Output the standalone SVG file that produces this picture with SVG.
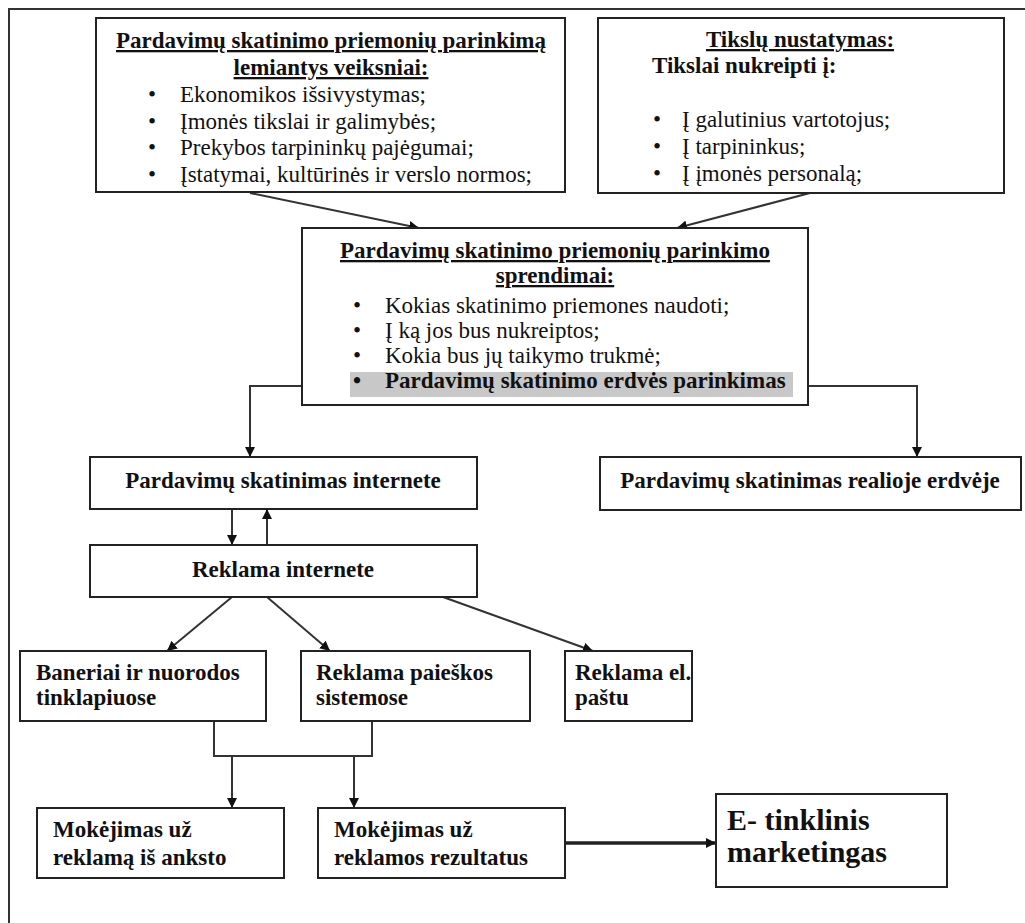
<svg xmlns="http://www.w3.org/2000/svg" width="1025" height="923" viewBox="0 0 1025 923" font-family="'Liberation Serif', 'Times New Roman', Times, 'DejaVu Serif', serif">
  <style>
    text { font-family: "Liberation Serif", "Times New Roman", Times, "DejaVu Serif", serif; font-size: 23px; fill: #111; }
    .b { font-weight: bold; }
    .u { text-decoration: underline; }
    .mid { text-anchor: middle; }
    .box { fill: #fff; stroke: #222; stroke-width: 2; }
    .frame { fill: none; stroke: #333; stroke-width: 2; }
    .line { fill: none; stroke: #333; stroke-width: 2; }
    .thick { fill: none; stroke: #222; stroke-width: 3.5; }
    .big { font-size: 30px; font-weight: bold; }
  </style>
  <defs>
    <marker id="arrow" viewBox="0 0 10 10" refX="10" refY="5" markerWidth="5" markerHeight="5" orient="auto" markerUnits="strokeWidth">
      <path d="M0,0 L10,5 L0,10 z" fill="#111"/>
    </marker>
    <marker id="arrowS" viewBox="0 0 10 10" refX="10" refY="5" markerWidth="3" markerHeight="3" orient="auto" markerUnits="strokeWidth">
      <path d="M0,0 L10,5 L0,10 z" fill="#111"/>
    </marker>
  </defs>

  <rect width="1025" height="923" fill="#fff"/>
  <!-- page frame -->
  <path class="frame" d="M9,923 L9,9 L1025,9"/>

  <!-- connectors -->
  <g id="connectors">
    <line class="line" x1="250" y1="193" x2="419" y2="228" marker-end="url(#arrow)"/>
    <line class="line" x1="810" y1="193" x2="677" y2="228" marker-end="url(#arrow)"/>
    <polyline class="line" points="350,386 250,386 250,457" marker-end="url(#arrow)"/>
    <polyline class="line" points="793,386 917,386 917,457" marker-end="url(#arrow)"/>
    <line class="line" x1="232" y1="509" x2="232" y2="545" marker-end="url(#arrow)"/>
    <line class="line" x1="267" y1="545" x2="267" y2="509" marker-end="url(#arrow)"/>
    <line class="line" x1="232" y1="597" x2="167" y2="651" marker-end="url(#arrow)"/>
    <line class="line" x1="267" y1="597" x2="330" y2="651" marker-end="url(#arrow)"/>
    <line class="line" x1="443" y1="597" x2="593" y2="651" marker-end="url(#arrow)"/>
    <polyline class="line" points="214,721 214,756 372,756 372,721"/>
    <line class="line" x1="232" y1="756" x2="232" y2="808" marker-end="url(#arrow)"/>
    <line class="line" x1="354" y1="756" x2="354" y2="808" marker-end="url(#arrow)"/>
    <line class="thick" x1="565" y1="843" x2="716" y2="843" marker-end="url(#arrowS)"/>
  </g>

  <g id="factors">
    <rect class="box" x="96" y="18" width="469" height="174"/>
    <text class="b u mid" x="331" y="48">Pardavimų skatinimo priemonių parinkimą</text>
    <text class="b u mid" x="331" y="75">lemiantys veiksniai:</text>
    <text x="148" y="102">•</text><text x="180" y="102">Ekonomikos išsivystymas;</text>
    <text x="148" y="129">•</text><text x="180" y="129">Įmonės tikslai ir galimybės;</text>
    <text x="148" y="155">•</text><text x="180" y="155">Prekybos tarpininkų pajėgumai;</text>
    <text x="148" y="182">•</text><text x="180" y="182">Įstatymai, kultūrinės ir verslo normos;</text>
  </g>

  <g id="goals">
    <rect class="box" x="598" y="18" width="406" height="175"/>
    <text class="b u mid" x="800" y="47">Tikslų nustatymas:</text>
    <text class="b" x="652" y="73">Tikslai nukreipti į:</text>
    <text x="653" y="127">•</text><text x="682" y="127">Į galutinius vartotojus;</text>
    <text x="653" y="154">•</text><text x="682" y="154">Į tarpininkus;</text>
    <text x="653" y="181">•</text><text x="682" y="181">Į įmonės personalą;</text>
  </g>

  <g id="decisions">
    <rect class="box" x="302" y="228" width="506" height="177"/>
    <rect x="350" y="372" width="443" height="25" fill="#c8c8c8"/>
    <text class="b u mid" x="555" y="258">Pardavimų skatinimo priemonių parinkimo</text>
    <text class="b u mid" x="555" y="283">sprendimai:</text>
    <text x="353" y="313">•</text><text x="385" y="313">Kokias skatinimo priemones naudoti;</text>
    <text x="353" y="338">•</text><text x="385" y="338">Į ką jos bus nukreiptos;</text>
    <text x="353" y="363">•</text><text x="385" y="363">Kokia bus jų taikymo trukmė;</text>
    <text class="b" x="353" y="388">•</text><text class="b" x="385" y="388">Pardavimų skatinimo erdvės parinkimas</text>
  </g>

  <g id="online-promotion">
    <rect class="box" x="90" y="457" width="387" height="52"/>
    <text class="b mid" x="283" y="488">Pardavimų skatinimas internete</text>
  </g>

  <g id="offline-promotion">
    <rect class="box" x="600" y="457" width="421" height="53"/>
    <text class="b mid" x="810" y="488">Pardavimų skatinimas realioje erdvėje</text>
  </g>

  <g id="online-ads">
    <rect class="box" x="90" y="545" width="387" height="52"/>
    <text class="b mid" x="283" y="577">Reklama internete</text>
  </g>

  <g id="banners">
    <rect class="box" x="20" y="651" width="246" height="70"/>
    <text class="b" x="36" y="680">Baneriai ir nuorodos</text>
    <text class="b" x="36" y="705">tinklapiuose</text>
  </g>

  <g id="search-ads">
    <rect class="box" x="301" y="651" width="229" height="70"/>
    <text class="b" x="316" y="680">Reklama paieškos</text>
    <text class="b" x="316" y="705">sistemose</text>
  </g>

  <g id="email-ads">
    <rect class="box" x="565" y="651" width="127" height="70"/>
    <text class="b" x="575" y="680">Reklama el.</text>
    <text class="b" x="575" y="705">paštu</text>
  </g>

  <g id="prepaid">
    <rect class="box" x="37" y="808" width="247" height="70"/>
    <text class="b" x="53" y="837">Mokėjimas už</text>
    <text class="b" x="53" y="865">reklamą iš anksto</text>
  </g>

  <g id="pay-per-result">
    <rect class="box" x="318" y="808" width="247" height="70"/>
    <text class="b" x="334" y="837">Mokėjimas už</text>
    <text class="b" x="334" y="865">reklamos rezultatus</text>
  </g>

  <g id="e-marketing">
    <rect class="box" x="716" y="794" width="231" height="93"/>
    <text class="big" x="727" y="830">E- tinklinis</text>
    <text class="big" x="727" y="862">marketingas</text>
  </g>
</svg>
